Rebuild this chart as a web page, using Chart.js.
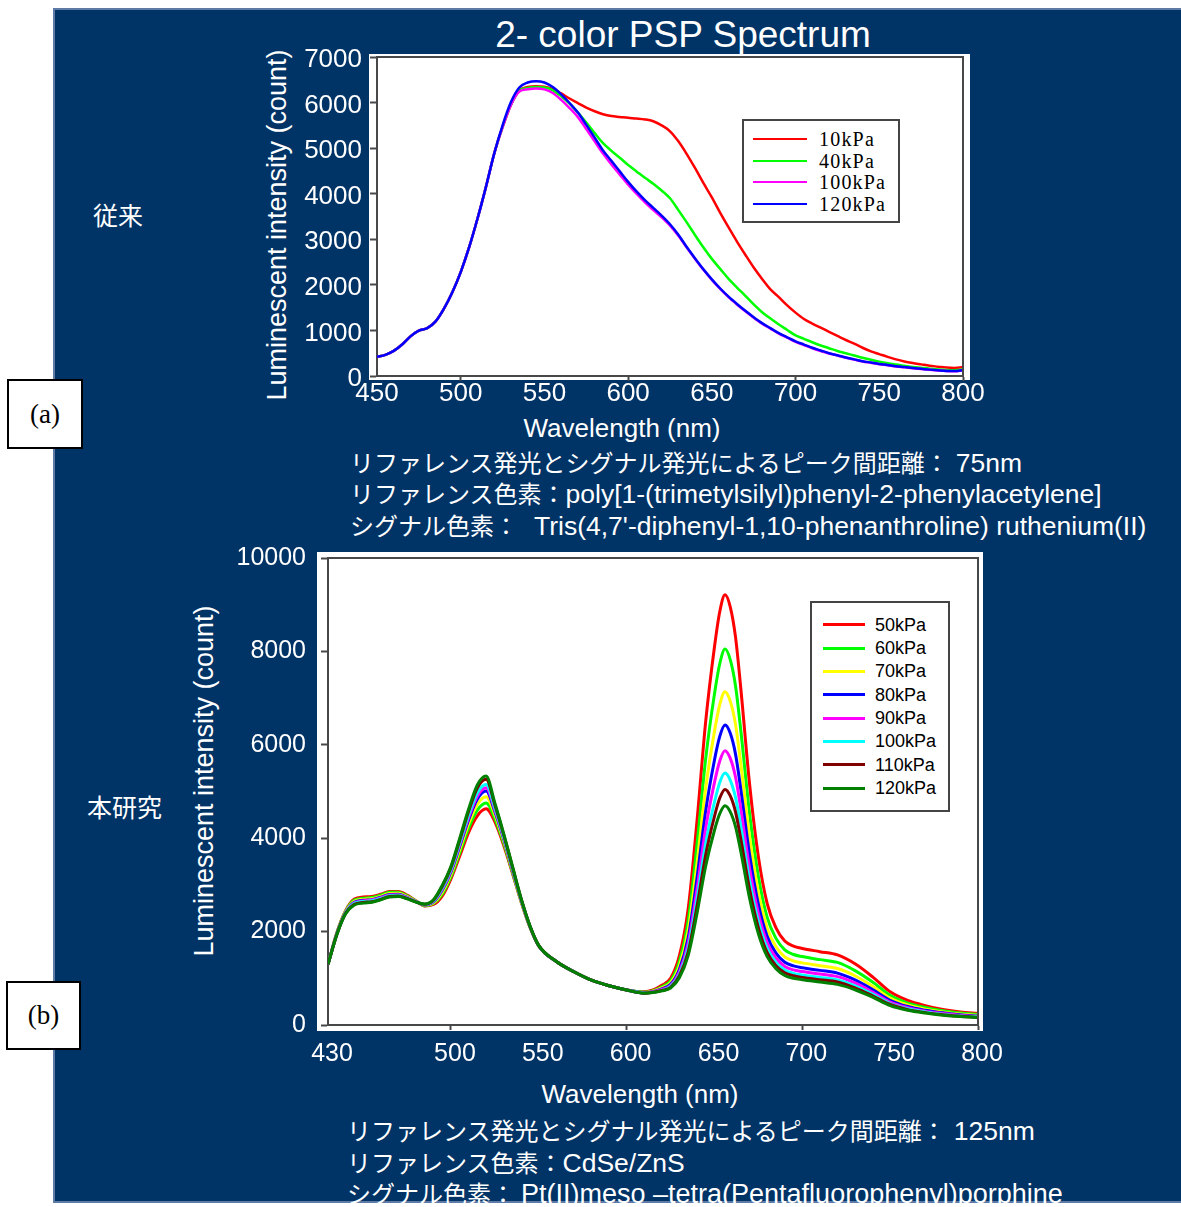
<!DOCTYPE html>
<html>
<head>
<meta charset="utf-8">
<title>2- color PSP Spectrum</title>
<script src="https://cdn.jsdelivr.net/npm/chart.js@4.4.1/dist/chart.umd.min.js"></script>
<style>
  html, body { margin: 0; padding: 0; background: #fff; }
  body {
    width: 1181px; height: 1207px; position: relative; overflow: hidden;
    font-family: "Liberation Sans", Arial, "Noto Sans CJK JP", sans-serif; color: #fff;
  }
  #panel {
    position: absolute; left: 53px; top: 8px; width: 1128px; height: 1195px;
    background: #003366; box-sizing: border-box;
    border-top: 2px solid #5d7ba6; border-left: 2px solid #5d7ba6; border-bottom: 2px solid #5d7ba6;
  }
  canvas { position: absolute; }
  .t { position: absolute; white-space: nowrap; line-height: 1; }
  .c { transform: translate(-50%, -50%); }
  .l { transform: translateY(-50%); }
  .rot { transform: translate(-50%, -50%) rotate(-90deg); }
  .jp { font-family: "Noto Sans CJK JP", sans-serif; font-size: 25px; }
  .info { font-family: "Noto Sans CJK JP", sans-serif; font-size: 24px; }
  .lat { font-family: "Liberation Sans", Arial, sans-serif; font-size: 26.5px; }
  .tag {
    position: absolute; box-sizing: border-box; background: #fff; border: 2px solid #000;
    color: #000; font-family: "Liberation Serif", "Times New Roman", serif; font-size: 27px;
    display: flex; align-items: center; justify-content: center;
  }
  .legend { position: absolute; box-sizing: border-box; background: #fff; border: 2px solid #444; color: #000; }
  .lg-row { position: absolute; left: 0; height: 0; }
  .lg-line { position: absolute; }
  .lg-text { position: absolute; top: 0; transform: translateY(-50%); line-height: 1; white-space: nowrap; }
</style>
</head>
<body>
<div id="panel"></div>

<div class="t c" style="left:683px; top:34px; font-size:37px;">2- color PSP Spectrum</div>

<div class="t jp l" style="left:93px; top:214px;">従来</div>
<div class="t jp l" style="left:87px; top:806px;">本研究</div>

<div class="tag" style="left:7px; top:379px; width:76px; height:70px;">(a)</div>
<div class="tag" style="left:6px; top:981px; width:75px; height:69px;">(b)</div>

<div class="t rot" style="left:277px; top:225px; font-size:27px;">Luminescent intensity (count)</div>
<div class="t c" style="left:622px; top:428px; font-size:26px;">Wavelength (nm)</div>
<div class="t rot" style="left:204px; top:781px; font-size:27px;">Luminescent intensity (count)</div>
<div class="t c" style="left:640px; top:1094px; font-size:26px;">Wavelength (nm)</div>

<div class="t l info" style="left:350px; top:463px;">リファレンス発光とシグナル発光によるピーク間距離：<span class="lat" style="margin-left:7px;">75nm</span></div>
<div class="t l info" style="left:350px; top:494px;">リファレンス色素：<span class="lat">poly[1-(trimetylsilyl)phenyl-2-phenylacetylene]</span></div>
<div class="t l info" style="left:350px; top:526px;">シグナル色素：<span class="lat" style="margin-left:16px;">Tris(4,7'-diphenyl-1,10-phenanthroline) ruthenium(II)</span></div>
<div class="t l info" style="left:347px; top:1131px;">リファレンス発光とシグナル発光によるピーク間距離：<span class="lat" style="margin-left:8px;">125nm</span></div>
<div class="t l info" style="left:347px; top:1163px;">リファレンス色素：<span class="lat">CdSe/ZnS</span></div>
<div class="t l info" style="left:347px; top:1194px;">シグナル色素：<span class="lat" style="margin-left:6px; font-size:27px;">Pt(II)meso –tetra(Pentafluorophenyl)porphine</span></div>

<canvas id="chartA" width="760" height="400" style="left:240px; top:36px;"></canvas>
<canvas id="chartB" width="820" height="545" style="left:200px; top:530px;"></canvas>

<div id="legendA" class="legend" style="left:742px; top:119px; width:158px; height:104px; font-family:'Liberation Serif','Times New Roman',serif; font-size:20px; letter-spacing:1.2px;"></div>
<div id="legendB" class="legend" style="left:810px; top:601px; width:140px; height:211px; font-size:18px;"></div>

<script>
// ---- (a) conventional PSP, 450-800 nm ----
const wavelengthA = [450, 455, 460, 465, 470, 475, 480, 485, 490, 495, 500, 505, 510, 515, 520, 525, 530,
  535, 540, 545, 550, 555, 560, 565, 570, 575, 580, 585, 590, 595, 600, 605, 610, 615, 620, 625, 630,
  635, 640, 645, 650, 655, 660, 665, 670, 675, 680, 685, 690, 695, 700, 705, 710, 715, 720, 725, 730,
  735, 740, 745, 750, 755, 760, 765, 770, 775, 780, 785, 790, 795, 800];

const a10kPa = [420, 465, 550, 690, 870, 995, 1050, 1200, 1480, 1840, 2280, 2820, 3450, 4140, 4880, 5460, 5950,
  6270, 6340, 6360, 6350, 6300, 6200, 6090, 5990, 5890, 5810, 5745, 5705, 5685, 5665, 5650, 5630, 5590, 5500, 5370, 5150,
  4870, 4560, 4230, 3920, 3580, 3260, 2950, 2660, 2380, 2130, 1900, 1730, 1550, 1390, 1250, 1150, 1060, 970, 880, 790,
  710, 620, 540, 480, 420, 365, 320, 285, 255, 225, 205, 185, 178, 195];

const a40kPa = [420, 465, 550, 690, 870, 995, 1050, 1200, 1480, 1840, 2280, 2820, 3450, 4140, 4880, 5460, 5950,
  6260, 6320, 6340, 6330, 6270, 6140, 5980, 5780, 5560, 5330, 5110, 4940, 4790, 4630, 4490, 4350, 4220, 4070, 3900, 3640,
  3370, 3090, 2820, 2570, 2350, 2130, 1940, 1760, 1570, 1400, 1260, 1130, 1010, 890, 815, 740, 670, 610, 550, 500,
  450, 400, 355, 315, 280, 250, 225, 200, 180, 160, 145, 133, 128, 140];

const a100kPa = [420, 465, 550, 690, 870, 995, 1050, 1200, 1480, 1840, 2280, 2820, 3450, 4140, 4880, 5460, 5950,
  6240, 6290, 6310, 6290, 6210, 6060, 5880, 5680, 5420, 5150, 4880, 4640, 4420, 4200, 4000, 3810, 3640, 3480, 3300, 3080,
  2820, 2570, 2330, 2110, 1910, 1730, 1570, 1420, 1280, 1150, 1040, 930, 840, 750, 680, 610, 550, 495, 450, 400,
  360, 320, 290, 260, 235, 208, 190, 170, 153, 136, 122, 110, 105, 125];

const a120kPa = [420, 465, 550, 690, 870, 995, 1050, 1200, 1480, 1840, 2280, 2820, 3450, 4140, 4880, 5500, 6010,
  6330, 6440, 6470, 6440, 6340, 6180, 5990, 5780, 5510, 5230, 4950, 4720, 4490, 4260, 4050, 3860, 3690, 3520, 3330, 3100,
  2830, 2580, 2340, 2120, 1920, 1740, 1580, 1430, 1290, 1160, 1050, 940, 850, 760, 690, 620, 560, 500, 455, 405,
  365, 325, 295, 265, 240, 212, 195, 175, 158, 140, 125, 112, 108, 130];

const labelsA = ['10kPa', '40kPa', '100kPa', '120kPa'];
const colorsA = ['#ff0000', '#00ff00', '#ff00ff', '#0000ff'];
const xTicksA = [450, 500, 550, 600, 650, 700, 750, 800];
const yTicksA = [0, 1000, 2000, 3000, 4000, 5000, 6000, 7000];

// ---- (b) this study, 430-800 nm ----
const wavelengthB = [430, 435, 440, 445, 450, 455, 460, 465, 470, 475, 480, 485, 490, 495, 500, 505, 510, 515, 520, 525,
  530, 535, 540, 545, 550, 560, 570, 580, 590, 600,
  610, 615, 620, 625, 630, 635, 640, 645, 650, 653, 656, 659, 662, 665, 670, 675, 680, 685, 690, 695, 700,
  710, 720, 730, 740, 750, 760, 770, 780, 790, 800];

const b50kPa = [1300, 1970, 2450, 2700, 2740, 2750, 2800, 2860, 2860, 2780, 2660, 2550, 2580, 2760, 3130, 3620, 4120, 4480, 4630, 4350,
  3850, 3250, 2630, 2090, 1690, 1360, 1140, 960, 840, 750,
  710, 750, 850, 1000, 1480, 2480, 4350, 6500, 8100, 8850, 9215, 8950, 8300, 7200, 5150, 3600, 2600, 2080, 1800, 1690, 1640,
  1570, 1500, 1310, 1030, 710, 525, 415, 335, 280, 245];

const b60kPa = [1300, 1965, 2435, 2675, 2715, 2730, 2780, 2840, 2840, 2765, 2655, 2555, 2600, 2800, 3180, 3690, 4210, 4600, 4755, 4420,
  3895, 3275, 2645, 2095, 1695, 1360, 1140, 960, 840, 750,
  700, 735, 820, 945, 1360, 2225, 3845, 5705, 7090, 7735, 8050, 7820, 7255, 6300, 4520, 3175, 2305, 1855, 1610, 1510, 1465,
  1400, 1340, 1165, 920, 635, 470, 375, 305, 255, 225];

const b70kPa = [1300, 1955, 2425, 2650, 2690, 2705, 2755, 2815, 2820, 2750, 2650, 2565, 2615, 2845, 3230, 3760, 4305, 4725, 4890, 4500,
  3945, 3305, 2655, 2100, 1695, 1360, 1140, 960, 840, 750,
  695, 725, 795, 905, 1265, 2020, 3440, 5075, 6290, 6860, 7135, 6930, 6435, 5590, 4025, 2840, 2075, 1675, 1460, 1370, 1330,
  1270, 1210, 1055, 830, 575, 430, 340, 280, 235, 205];

const b80kPa = [1300, 1950, 2410, 2630, 2670, 2685, 2735, 2795, 2800, 2735, 2645, 2570, 2635, 2885, 3275, 3825, 4390, 4835, 5010, 4565,
  3985, 3330, 2670, 2105, 1695, 1360, 1140, 960, 840, 750,
  690, 715, 775, 870, 1190, 1865, 3135, 4590, 5675, 6180, 6425, 6245, 5795, 5045, 3645, 2585, 1900, 1540, 1345, 1265, 1225,
  1170, 1110, 965, 760, 530, 395, 315, 260, 220, 190];

const b90kPa = [1300, 1945, 2405, 2615, 2655, 2675, 2725, 2785, 2790, 2730, 2640, 2575, 2645, 2905, 3305, 3865, 4440, 4900, 5080, 4605,
  4010, 3345, 2675, 2110, 1695, 1360, 1140, 960, 840, 750,
  685, 710, 760, 845, 1135, 1745, 2895, 4215, 5195, 5655, 5875, 5710, 5305, 4620, 3345, 2385, 1760, 1435, 1255, 1180, 1145,
  1090, 1035, 900, 705, 490, 370, 295, 245, 205, 180];

const b100kPa = [1300, 1940, 2400, 2605, 2645, 2660, 2710, 2770, 2780, 2720, 2640, 2580, 2655, 2930, 3330, 3900, 4490, 4970, 5150, 4645,
  4035, 3360, 2680, 2110, 1695, 1360, 1140, 960, 840, 750,
  685, 700, 745, 825, 1085, 1640, 2685, 3885, 4775, 5195, 5395, 5240, 4870, 4250, 3085, 2210, 1640, 1340, 1175, 1105, 1070,
  1020, 965, 840, 660, 460, 350, 280, 230, 195, 175];

const b110kPa = [1300, 1935, 2385, 2585, 2625, 2640, 2690, 2750, 2760, 2710, 2635, 2585, 2670, 2965, 3375, 3960, 4570, 5075, 5260, 4710,
  4075, 3385, 2695, 2115, 1700, 1360, 1140, 960, 840, 750,
  680, 700, 740, 805, 1050, 1560, 2530, 3645, 4470, 4860, 5045, 4905, 4560, 3980, 2900, 2080, 1550, 1270, 1120, 1055, 1020,
  970, 920, 795, 625, 440, 330, 265, 220, 185, 165];

const b120kPa = [1300, 1930, 2380, 2570, 2610, 2630, 2680, 2740, 2750, 2700, 2630, 2590, 2680, 2990, 3400, 4000, 4620, 5140, 5330, 4750,
  4100, 3400, 2700, 2120, 1700, 1360, 1140, 960, 840, 750,
  680, 695, 730, 790, 1010, 1485, 2380, 3405, 4170, 4525, 4695, 4565, 4245, 3710, 2710, 1955, 1465, 1205, 1060, 1000, 970,
  920, 870, 755, 595, 415, 315, 255, 210, 180, 160];

const labelsB = ['50kPa', '60kPa', '70kPa', '80kPa', '90kPa', '100kPa', '110kPa', '120kPa'];
const colorsB = ['#ff0000', '#00ff00', '#ffff00', '#0000ff', '#ff00ff', '#00ffff', '#800000', '#008000'];
const xTicksB = [430, 500, 550, 600, 650, 700, 750, 800];
const yTicksB = [0, 2000, 4000, 6000, 8000, 10000];

const AXIS = '#484848';
const FONT = "'Liberation Sans', Arial, sans-serif";

/*== white plot box and closing frame ==*/
const plotBox = {
  id: 'plotBox',
  beforeDraw(chart, args, opts) {
    const { ctx, chartArea: a } = chart;
    const m = opts.margin;
    ctx.save();
    ctx.fillStyle = '#fff';
    ctx.fillRect(a.left - m[0], a.top - m[1], a.width + m[0] + m[2], a.height + m[1] + m[3]);
    ctx.restore();
  },
  afterDraw(chart) {
    const { ctx, chartArea: a } = chart;
    ctx.save();
    ctx.strokeStyle = AXIS;
    ctx.lineWidth = 2;
    ctx.beginPath();
    ctx.moveTo(a.left, a.top);
    ctx.lineTo(a.right, a.top);
    ctx.lineTo(a.right, a.bottom);
    ctx.stroke();
    ctx.restore();
  }
};

function makeDatasets(wl, series, labels, colors, width) {
  return series.map((vals, i) => ({
    label: labels[i],
    data: wl.map((w, j) => ({ x: w, y: vals[j] })),
    borderColor: colors[i],
    backgroundColor: colors[i],
    borderWidth: width,
    pointRadius: 0,
    cubicInterpolationMode: 'monotone',
    order: series.length - 1 - i   // last series drawn on top
  }));
}

function makeOptions(cfg) {
  return {
    responsive: false,
    animation: false,
    devicePixelRatio: 1,
    layout: { padding: { top: cfg.padTop, right: cfg.padRight, left: 0, bottom: 0 } },
    plugins: {
      legend: { display: false },
      tooltip: { enabled: false },
      plotBox: { margin: cfg.boxMargin }
    },
    scales: {
      x: {
        type: 'linear',
        min: cfg.xTicks[0],
        max: cfg.xTicks[cfg.xTicks.length - 1],
        afterBuildTicks: s => { s.ticks = cfg.xTicks.map(v => ({ value: v })); },
        afterFit: s => { s.height = cfg.xHeight; },
        border: { display: true, color: AXIS, width: 2 },
        grid: {
          drawOnChartArea: false,
          drawTicks: true,
          tickLength: 5,
          tickWidth: 2,
          tickColor: c => (c.tick && c.tick.value % 100 === 0) ? AXIS : 'rgba(0,0,0,0)'
        },
        ticks: {
          color: '#fff',
          padding: cfg.xPad,
          labelOffset: cfg.xLabelShift,
          autoSkip: false,
          maxRotation: 0,
          font: { family: FONT, size: cfg.fontSize, lineHeight: 1 },
          callback: v => String(v)
        }
      },
      y: {
        min: 0,
        max: cfg.yTicks[cfg.yTicks.length - 1],
        afterBuildTicks: s => { s.ticks = cfg.yTicks.map(v => ({ value: v })); },
        afterFit: s => { s.width = cfg.yWidth; },
        border: { display: true, color: AXIS, width: 2 },
        grid: { drawOnChartArea: false, drawTicks: true, tickLength: 7, tickWidth: 2, tickColor: AXIS },
        ticks: {
          color: '#fff',
          padding: cfg.yPad,
          labelOffset: cfg.yLabelShift,
          autoSkip: false,
          font: { family: FONT, size: cfg.fontSize, lineHeight: 1 },
          callback: v => String(v)
        }
      }
    }
  };
}

function buildLegend(chart, id, first, step, lineLeft, lineLen, lineW, textLeft) {
  const box = document.getElementById(id);
  chart.data.datasets.forEach((ds, i) => {
    const row = document.createElement('div');
    row.className = 'lg-row';
    row.style.top = (first + i * step) + 'px';
    const ln = document.createElement('span');
    ln.className = 'lg-line';
    ln.style.left = lineLeft + 'px';
    ln.style.width = lineLen + 'px';
    ln.style.height = lineW + 'px';
    ln.style.top = (-lineW / 2) + 'px';
    ln.style.background = ds.borderColor;
    const tx = document.createElement('span');
    tx.className = 'lg-text';
    tx.style.left = textLeft + 'px';
    tx.textContent = ds.label;
    row.appendChild(ln);
    row.appendChild(tx);
    box.appendChild(row);
  });
}

Chart.register(plotBox);

const chartA = new Chart(document.getElementById('chartA'), {
  type: 'line',
  data: { datasets: makeDatasets(wavelengthA, [a10kPa, a40kPa, a100kPa, a120kPa], labelsA, colorsA, 2.5) },
  options: makeOptions({
    padTop: 21, padRight: 37, xHeight: 60, yWidth: 137,
    xTicks: xTicksA, yTicks: yTicksA, fontSize: 26, xPad: 0, yPad: 8,
    xLabelShift: 0, yLabelShift: 3,
    boxMargin: [8, 3, 7, 4]
  })
});

const chartB = new Chart(document.getElementById('chartB'), {
  type: 'line',
  data: {
    datasets: makeDatasets(wavelengthB,
      [b50kPa, b60kPa, b70kPa, b80kPa, b90kPa, b100kPa, b110kPa, b120kPa], labelsB, colorsB, 3)
  },
  options: makeOptions({
    padTop: 28, padRight: 42, xHeight: 50, yWidth: 128,
    xTicks: xTicksB, yTicks: yTicksB, fontSize: 25, xPad: 12, yPad: 15,
    xLabelShift: 4, yLabelShift: 0,
    boxMargin: [11, 6, 5, 6]
  })
});

buildLegend(chartA, 'legendA', 18, 21.7, 9, 54, 2, 75);
buildLegend(chartB, 'legendB', 21.7, 23.33, 11, 42, 3, 63);
</script>
</body>
</html>
